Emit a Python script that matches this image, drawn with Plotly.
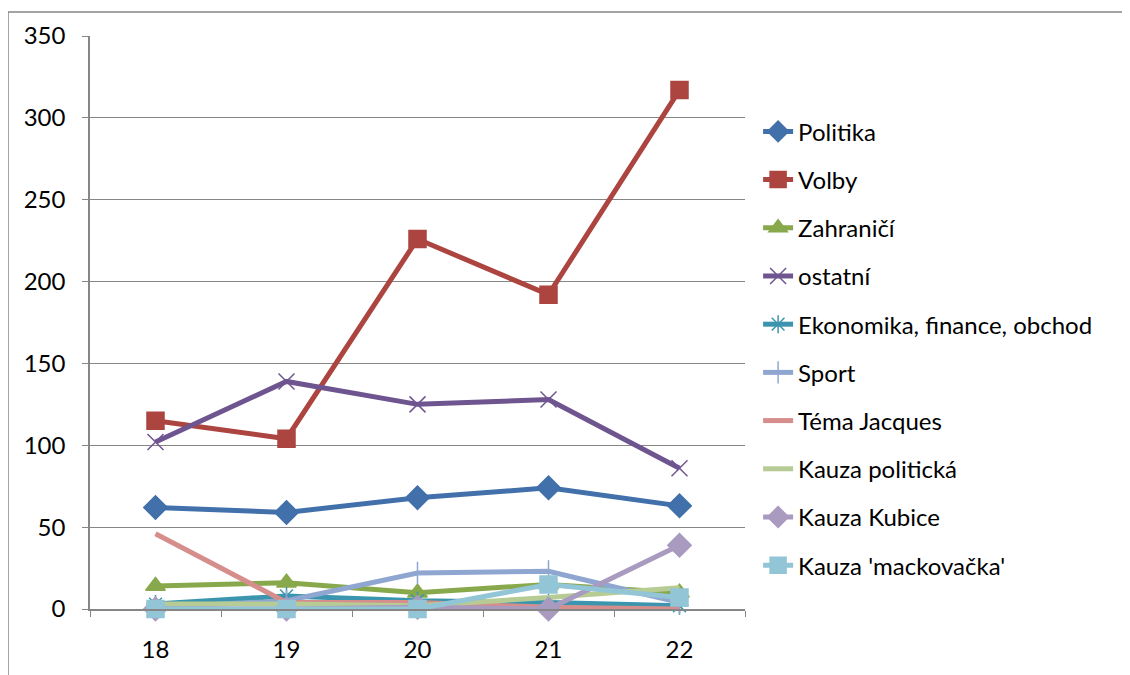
import plotly.graph_objects as go

categories = ["18", "19", "20", "21", "22"]

politika = [62, 59, 68, 74, 63]
volby = [115, 104, 226, 192, 317]
zahranici = [14, 16, 10, 15, 10]
ostatni = [102, 139, 125, 128, 86]
ekonomika = [3, 8, 5, 4, 2]
sport = [1, 5, 22, 23, 4]
jacques = [46, 4, 4, 1, 0]
kauza_politicka = [3, 3, 2, 7, 13]
kauza_kubice = [0, 0, 1, 0, 39]
mackovacka = [0, 0, 0, 15, 7]

series = [
    ("Politika", politika, "#4170AA", "diamond", 18),
    ("Volby", volby, "#AC4440", "square", 17),
    ("Zahraničí", zahranici, "#88A84C", "triangle-up", 17),
    ("ostatní", ostatni, "#6F5590", "x-thin-open", 16),
    ("Ekonomika, finance, obchod", ekonomika, "#3C95AE", "asterisk-open", 15),
    ("Sport", sport, "#8FA7D0", "line-ns-open", 16),
    ("Téma Jacques", jacques, "#D58E8C", None, 0),
    ("Kauza politická", kauza_politicka, "#B6CC94", None, 0),
    ("Kauza Kubice", kauza_kubice, "#A99AC0", "diamond", 18),
    ("Kauza 'mackovačka'", mackovacka, "#92C5D6", "square", 17),
]

fig = go.Figure()
for i, (name, vals, color, sym, size) in enumerate(series):
    if sym:
        mode = "lines+markers"
        marker = dict(symbol=sym, size=size, color=color,
                      line=dict(color=color, width=1.5))
    else:
        mode = "lines"
        marker = None
    fig.add_trace(go.Scatter(
        x=categories, y=vals, name=name, mode=mode,
        line=dict(color=color, width=5),
        marker=marker, legendgroup=f"g{i}", cliponaxis=False,
    ))

fig.update_layout(
    width=1122, height=667,
    margin=dict(l=82, r=385, t=28, b=66),
    paper_bgcolor="white", plot_bgcolor="white",
    font=dict(family="Lato, Open Sans, sans-serif", size=24, color="#000000"),
    showlegend=True,
    legend=dict(x=1.02, xanchor="left", y=0.455, yanchor="middle",
                font=dict(size=24), tracegroupgap=14,
                bgcolor="rgba(0,0,0,0)"),
    xaxis=dict(type="category", range=[-0.5, 4.5], tickson="boundaries",
               ticks="outside", ticklen=6, tickcolor="#868686",
               showline=True, linecolor="#868686", linewidth=1.5,
               showgrid=False, zeroline=False, ticklabelstandoff=18),
    yaxis=dict(range=[0, 350], dtick=50, ticks="outside", ticklen=6,
               tickcolor="#868686", showline=True, linecolor="#868686",
               linewidth=1.5, showgrid=True, gridcolor="#868686",
               gridwidth=1, zeroline=False, ticklabelstandoff=12),
    shapes=[dict(type="rect", xref="paper", yref="paper",
                 x0=(8 - 90) / 655, x1=1.8, y0=-0.3, y1=(609 - 12) / 573,
                 line=dict(color="#868686", width=1.5), layer="below")],
)

fig.write_html("out.html")
